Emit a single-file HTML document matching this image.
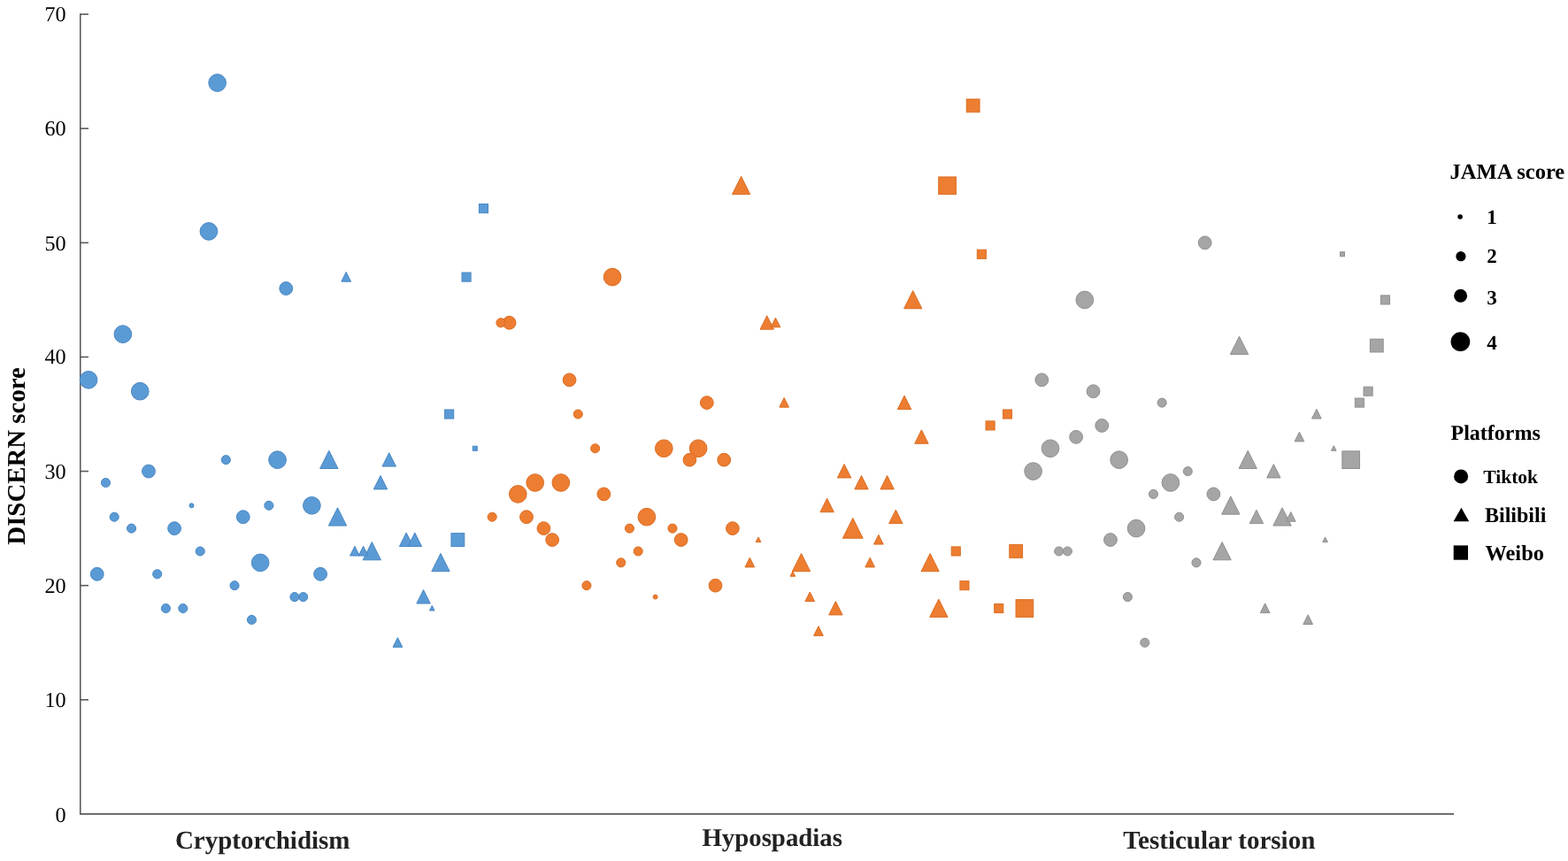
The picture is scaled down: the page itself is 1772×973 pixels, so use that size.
<!DOCTYPE html>
<html lang="en">
<head>
<meta charset="utf-8">
<title>DISCERN score by disease, platform and JAMA score</title>
<style>
html,body{margin:0;padding:0;background:#fff;}
body{width:1772px;height:973px;overflow:hidden;position:relative;font-family:"Liberation Serif",serif;}
svg{position:absolute;left:0;top:0;display:block;}
text{font-family:"Liberation Serif",serif;text-rendering:geometricPrecision;}
.tick{font-size:24.2px;fill:#000;text-anchor:end;}
.cat{font-size:29px;font-weight:bold;fill:#222;text-anchor:middle;}
.ylab{font-size:28.85px;font-weight:bold;fill:#000;text-anchor:middle;}
.lt{font-size:24.55px;font-weight:bold;fill:#000;}
.ll{font-size:21.5px;font-weight:bold;fill:#000;}
</style>
</head>
<body>
<svg width="1772" height="973" viewBox="0 0 1772 973">
<rect x="0" y="0" width="1772" height="973" fill="#ffffff"/>

<g id="axes" fill="none" stroke="#5a5a5a" stroke-width="1.6">
<path d="M90.76 15.33V919.9H1643"/>
<path d="M90.76 790.79H100"/>
<path d="M90.76 661.68H100"/>
<path d="M90.76 532.57H100"/>
<path d="M90.76 403.46H100"/>
<path d="M90.76 274.35H100"/>
<path d="M90.76 145.24H100"/>
<path d="M90.76 16.13H100"/>
</g>
<g id="yticks">
<text class="tick" x="74.6" y="928.6">0</text>
<text class="tick" x="74.6" y="798.99">10</text>
<text class="tick" x="74.6" y="669.88">20</text>
<text class="tick" x="74.6" y="540.77">30</text>
<text class="tick" x="74.6" y="411.3">40</text>
<text class="tick" x="74.6" y="282.55">50</text>
<text class="tick" x="74.6" y="153.44">60</text>
<text class="tick" x="74.6" y="24.2">70</text>
</g>
<text class="ylab" transform="translate(27.6 515.4) rotate(-90)">DISCERN score</text>
<g id="cats">
<text class="cat" x="296.7" y="959.1" style="font-size:29px">Cryptorchidism</text>
<text class="cat" x="872.7" y="955.7" style="font-size:28.8px">Hypospadias</text>
<text class="cat" x="1377.85" y="958.6" style="font-size:29.05px">Testicular torsion</text>
</g>
<g id="points">
<path d="M963.79 585.42L975.19 608.23H952.39Z" fill="#ed7d31" stroke="#db6e23" stroke-width="1"/>
<circle cx="100.05" cy="429.28" r="9.85" fill="#5b9bd5" stroke="#4886c3" stroke-width="1"/>
<circle cx="138.87" cy="377.64" r="9.85" fill="#5b9bd5" stroke="#4886c3" stroke-width="1"/>
<circle cx="158.28" cy="442.19" r="9.85" fill="#5b9bd5" stroke="#4886c3" stroke-width="1"/>
<circle cx="235.92" cy="261.44" r="9.85" fill="#5b9bd5" stroke="#4886c3" stroke-width="1"/>
<circle cx="245.62" cy="93.6" r="9.85" fill="#5b9bd5" stroke="#4886c3" stroke-width="1"/>
<circle cx="294.15" cy="635.86" r="9.85" fill="#5b9bd5" stroke="#4886c3" stroke-width="1"/>
<circle cx="313.56" cy="519.66" r="9.85" fill="#5b9bd5" stroke="#4886c3" stroke-width="1"/>
<circle cx="352.38" cy="571.3" r="9.85" fill="#5b9bd5" stroke="#4886c3" stroke-width="1"/>
<path d="M371.79 509.21L381.94 529.51H361.64Z" fill="#5b9bd5" stroke="#4886c3" stroke-width="1"/>
<path d="M381.5 573.76L391.64 594.06H371.35Z" fill="#5b9bd5" stroke="#4886c3" stroke-width="1"/>
<path d="M420.31 612.5L430.46 632.8H410.17Z" fill="#5b9bd5" stroke="#4886c3" stroke-width="1"/>
<path d="M497.96 625.41L508.11 645.71H487.81Z" fill="#5b9bd5" stroke="#4886c3" stroke-width="1"/>
<circle cx="585.3" cy="558.39" r="9.85" fill="#ed7d31" stroke="#db6e23" stroke-width="1"/>
<circle cx="604.71" cy="545.48" r="9.85" fill="#ed7d31" stroke="#db6e23" stroke-width="1"/>
<circle cx="633.82" cy="545.48" r="9.85" fill="#ed7d31" stroke="#db6e23" stroke-width="1"/>
<circle cx="692.05" cy="313.08" r="9.85" fill="#ed7d31" stroke="#db6e23" stroke-width="1"/>
<circle cx="730.88" cy="584.21" r="9.85" fill="#ed7d31" stroke="#db6e23" stroke-width="1"/>
<circle cx="750.28" cy="506.75" r="9.85" fill="#ed7d31" stroke="#db6e23" stroke-width="1"/>
<circle cx="789.1" cy="506.75" r="9.85" fill="#ed7d31" stroke="#db6e23" stroke-width="1"/>
<path d="M837.63 199.34L847.78 219.64H827.48Z" fill="#ed7d31" stroke="#db6e23" stroke-width="1"/>
<path d="M905.56 625.41L915.71 645.71H895.41Z" fill="#ed7d31" stroke="#db6e23" stroke-width="1"/>
<path d="M1031.73 328.45L1041.88 348.75H1021.58Z" fill="#ed7d31" stroke="#db6e23" stroke-width="1"/>
<path d="M1051.14 625.41L1061.29 645.71H1040.99Z" fill="#ed7d31" stroke="#db6e23" stroke-width="1"/>
<path d="M1060.85 677.05L1071 697.35H1050.69Z" fill="#ed7d31" stroke="#db6e23" stroke-width="1"/>
<rect x="1060.7" y="199.94" width="19.7" height="19.7" fill="#ed7d31" stroke="#db6e23" stroke-width="1"/>
<rect x="1148.05" y="677.65" width="19.7" height="19.7" fill="#ed7d31" stroke="#db6e23" stroke-width="1"/>
<circle cx="1167.6" cy="532.57" r="9.85" fill="#a5a5a5" stroke="#909090" stroke-width="1"/>
<circle cx="1187.01" cy="506.75" r="9.85" fill="#a5a5a5" stroke="#909090" stroke-width="1"/>
<circle cx="1225.83" cy="338.9" r="9.85" fill="#a5a5a5" stroke="#909090" stroke-width="1"/>
<circle cx="1264.65" cy="519.66" r="9.85" fill="#a5a5a5" stroke="#909090" stroke-width="1"/>
<circle cx="1284.06" cy="597.12" r="9.85" fill="#a5a5a5" stroke="#909090" stroke-width="1"/>
<circle cx="1322.88" cy="545.48" r="9.85" fill="#a5a5a5" stroke="#909090" stroke-width="1"/>
<path d="M1381.11 612.5L1391.26 632.8H1370.96Z" fill="#a5a5a5" stroke="#909090" stroke-width="1"/>
<path d="M1390.82 560.85L1400.97 581.15H1380.66Z" fill="#a5a5a5" stroke="#909090" stroke-width="1"/>
<path d="M1400.52 380.1L1410.67 400.4H1390.37Z" fill="#a5a5a5" stroke="#909090" stroke-width="1"/>
<path d="M1410.22 509.21L1420.38 529.51H1400.07Z" fill="#a5a5a5" stroke="#909090" stroke-width="1"/>
<path d="M1449.05 573.76L1459.2 594.06H1438.89Z" fill="#a5a5a5" stroke="#909090" stroke-width="1"/>
<rect x="1516.84" y="509.81" width="19.7" height="19.7" fill="#a5a5a5" stroke="#909090" stroke-width="1"/>
<circle cx="109.75" cy="648.77" r="7.4" fill="#5b9bd5" stroke="#4886c3" stroke-width="1"/>
<circle cx="167.99" cy="532.57" r="7.4" fill="#5b9bd5" stroke="#4886c3" stroke-width="1"/>
<circle cx="197.1" cy="597.12" r="7.4" fill="#5b9bd5" stroke="#4886c3" stroke-width="1"/>
<circle cx="274.74" cy="584.21" r="7.4" fill="#5b9bd5" stroke="#4886c3" stroke-width="1"/>
<circle cx="323.26" cy="325.99" r="7.4" fill="#5b9bd5" stroke="#4886c3" stroke-width="1"/>
<circle cx="362.09" cy="648.77" r="7.4" fill="#5b9bd5" stroke="#4886c3" stroke-width="1"/>
<path d="M430.02 537.48L437.72 552.88H422.32Z" fill="#5b9bd5" stroke="#4886c3" stroke-width="1"/>
<path d="M439.73 511.66L447.43 527.06H432.03Z" fill="#5b9bd5" stroke="#4886c3" stroke-width="1"/>
<path d="M459.13 602.04L466.83 617.44H451.44Z" fill="#5b9bd5" stroke="#4886c3" stroke-width="1"/>
<path d="M468.84 602.04L476.54 617.44H461.14Z" fill="#5b9bd5" stroke="#4886c3" stroke-width="1"/>
<path d="M478.55 666.59L486.25 681.99H470.85Z" fill="#5b9bd5" stroke="#4886c3" stroke-width="1"/>
<rect x="509.97" y="602.64" width="14.8" height="14.8" fill="#5b9bd5" stroke="#4886c3" stroke-width="1"/>
<circle cx="575.6" cy="364.73" r="7.4" fill="#ed7d31" stroke="#db6e23" stroke-width="1"/>
<circle cx="595" cy="584.21" r="7.4" fill="#ed7d31" stroke="#db6e23" stroke-width="1"/>
<circle cx="614.41" cy="597.12" r="7.4" fill="#ed7d31" stroke="#db6e23" stroke-width="1"/>
<circle cx="624.12" cy="610.04" r="7.4" fill="#ed7d31" stroke="#db6e23" stroke-width="1"/>
<circle cx="643.53" cy="429.28" r="7.4" fill="#ed7d31" stroke="#db6e23" stroke-width="1"/>
<circle cx="682.35" cy="558.39" r="7.4" fill="#ed7d31" stroke="#db6e23" stroke-width="1"/>
<circle cx="769.69" cy="610.04" r="7.4" fill="#ed7d31" stroke="#db6e23" stroke-width="1"/>
<circle cx="779.4" cy="519.66" r="7.4" fill="#ed7d31" stroke="#db6e23" stroke-width="1"/>
<circle cx="798.81" cy="455.1" r="7.4" fill="#ed7d31" stroke="#db6e23" stroke-width="1"/>
<circle cx="808.51" cy="661.68" r="7.4" fill="#ed7d31" stroke="#db6e23" stroke-width="1"/>
<circle cx="818.22" cy="519.66" r="7.4" fill="#ed7d31" stroke="#db6e23" stroke-width="1"/>
<circle cx="827.92" cy="597.12" r="7.4" fill="#ed7d31" stroke="#db6e23" stroke-width="1"/>
<path d="M866.75 356.73L874.45 372.13H859.04Z" fill="#ed7d31" stroke="#db6e23" stroke-width="1"/>
<path d="M934.68 563.3L942.38 578.7H926.98Z" fill="#ed7d31" stroke="#db6e23" stroke-width="1"/>
<path d="M944.38 679.5L952.09 694.9H936.68Z" fill="#ed7d31" stroke="#db6e23" stroke-width="1"/>
<path d="M954.09 524.57L961.79 539.97H946.39Z" fill="#ed7d31" stroke="#db6e23" stroke-width="1"/>
<path d="M973.5 537.48L981.2 552.88H965.8Z" fill="#ed7d31" stroke="#db6e23" stroke-width="1"/>
<path d="M1002.62 537.48L1010.32 552.88H994.91Z" fill="#ed7d31" stroke="#db6e23" stroke-width="1"/>
<path d="M1012.32 576.21L1020.02 591.61H1004.62Z" fill="#ed7d31" stroke="#db6e23" stroke-width="1"/>
<path d="M1022.02 447.1L1029.72 462.5H1014.32Z" fill="#ed7d31" stroke="#db6e23" stroke-width="1"/>
<path d="M1041.43 485.84L1049.13 501.24H1033.73Z" fill="#ed7d31" stroke="#db6e23" stroke-width="1"/>
<rect x="1092.26" y="112.02" width="14.8" height="14.8" fill="#ed7d31" stroke="#db6e23" stroke-width="1"/>
<rect x="1140.79" y="615.55" width="14.8" height="14.8" fill="#ed7d31" stroke="#db6e23" stroke-width="1"/>
<circle cx="1177.31" cy="429.28" r="7.4" fill="#a5a5a5" stroke="#909090" stroke-width="1"/>
<circle cx="1216.12" cy="493.84" r="7.4" fill="#a5a5a5" stroke="#909090" stroke-width="1"/>
<circle cx="1235.53" cy="442.19" r="7.4" fill="#a5a5a5" stroke="#909090" stroke-width="1"/>
<circle cx="1245.24" cy="480.93" r="7.4" fill="#a5a5a5" stroke="#909090" stroke-width="1"/>
<circle cx="1254.94" cy="610.04" r="7.4" fill="#a5a5a5" stroke="#909090" stroke-width="1"/>
<circle cx="1361.7" cy="274.35" r="7.4" fill="#a5a5a5" stroke="#909090" stroke-width="1"/>
<circle cx="1371.4" cy="558.39" r="7.4" fill="#a5a5a5" stroke="#909090" stroke-width="1"/>
<path d="M1419.93 576.21L1427.63 591.61H1412.23Z" fill="#a5a5a5" stroke="#909090" stroke-width="1"/>
<path d="M1439.34 524.57L1447.04 539.97H1431.64Z" fill="#a5a5a5" stroke="#909090" stroke-width="1"/>
<rect x="1548.4" y="383.15" width="14.8" height="14.8" fill="#a5a5a5" stroke="#909090" stroke-width="1"/>
<circle cx="119.46" cy="545.48" r="5.05" fill="#5b9bd5" stroke="#4886c3" stroke-width="1"/>
<circle cx="129.16" cy="584.21" r="5.05" fill="#5b9bd5" stroke="#4886c3" stroke-width="1"/>
<circle cx="148.57" cy="597.12" r="5.05" fill="#5b9bd5" stroke="#4886c3" stroke-width="1"/>
<circle cx="177.69" cy="648.77" r="5.05" fill="#5b9bd5" stroke="#4886c3" stroke-width="1"/>
<circle cx="187.39" cy="687.5" r="5.05" fill="#5b9bd5" stroke="#4886c3" stroke-width="1"/>
<circle cx="206.81" cy="687.5" r="5.05" fill="#5b9bd5" stroke="#4886c3" stroke-width="1"/>
<circle cx="226.22" cy="622.95" r="5.05" fill="#5b9bd5" stroke="#4886c3" stroke-width="1"/>
<circle cx="255.33" cy="519.66" r="5.05" fill="#5b9bd5" stroke="#4886c3" stroke-width="1"/>
<circle cx="265.04" cy="661.68" r="5.05" fill="#5b9bd5" stroke="#4886c3" stroke-width="1"/>
<circle cx="284.44" cy="700.41" r="5.05" fill="#5b9bd5" stroke="#4886c3" stroke-width="1"/>
<circle cx="303.86" cy="571.3" r="5.05" fill="#5b9bd5" stroke="#4886c3" stroke-width="1"/>
<circle cx="332.97" cy="674.59" r="5.05" fill="#5b9bd5" stroke="#4886c3" stroke-width="1"/>
<circle cx="342.68" cy="674.59" r="5.05" fill="#5b9bd5" stroke="#4886c3" stroke-width="1"/>
<path d="M391.2 307.43L396.55 318.13H385.85Z" fill="#5b9bd5" stroke="#4886c3" stroke-width="1"/>
<path d="M400.91 617.3L406.26 628H395.56Z" fill="#5b9bd5" stroke="#4886c3" stroke-width="1"/>
<path d="M410.61 617.3L415.96 628H405.26Z" fill="#5b9bd5" stroke="#4886c3" stroke-width="1"/>
<path d="M449.43 720.59L454.78 731.28H444.08Z" fill="#5b9bd5" stroke="#4886c3" stroke-width="1"/>
<rect x="502.61" y="462.96" width="10.1" height="10.1" fill="#5b9bd5" stroke="#4886c3" stroke-width="1"/>
<rect x="522.02" y="308.03" width="10.1" height="10.1" fill="#5b9bd5" stroke="#4886c3" stroke-width="1"/>
<rect x="541.43" y="230.57" width="10.1" height="10.1" fill="#5b9bd5" stroke="#4886c3" stroke-width="1"/>
<circle cx="556.18" cy="584.21" r="5.05" fill="#ed7d31" stroke="#db6e23" stroke-width="1"/>
<circle cx="565.89" cy="364.73" r="5.05" fill="#ed7d31" stroke="#db6e23" stroke-width="1"/>
<circle cx="653.24" cy="468.01" r="5.05" fill="#ed7d31" stroke="#db6e23" stroke-width="1"/>
<circle cx="662.94" cy="661.68" r="5.05" fill="#ed7d31" stroke="#db6e23" stroke-width="1"/>
<circle cx="672.64" cy="506.75" r="5.05" fill="#ed7d31" stroke="#db6e23" stroke-width="1"/>
<circle cx="701.76" cy="635.86" r="5.05" fill="#ed7d31" stroke="#db6e23" stroke-width="1"/>
<circle cx="711.46" cy="597.12" r="5.05" fill="#ed7d31" stroke="#db6e23" stroke-width="1"/>
<circle cx="721.17" cy="622.95" r="5.05" fill="#ed7d31" stroke="#db6e23" stroke-width="1"/>
<circle cx="759.99" cy="597.12" r="5.05" fill="#ed7d31" stroke="#db6e23" stroke-width="1"/>
<path d="M847.33 630.21L852.68 640.91H841.98Z" fill="#ed7d31" stroke="#db6e23" stroke-width="1"/>
<path d="M876.45 359.08L881.8 369.78H871.1Z" fill="#ed7d31" stroke="#db6e23" stroke-width="1"/>
<path d="M886.15 449.45L891.5 460.15H880.8Z" fill="#ed7d31" stroke="#db6e23" stroke-width="1"/>
<path d="M915.27 668.94L920.62 679.64H909.92Z" fill="#ed7d31" stroke="#db6e23" stroke-width="1"/>
<path d="M924.97 707.67L930.32 718.37H919.62Z" fill="#ed7d31" stroke="#db6e23" stroke-width="1"/>
<path d="M983.2 630.21L988.55 640.91H977.85Z" fill="#ed7d31" stroke="#db6e23" stroke-width="1"/>
<path d="M992.91 604.39L998.26 615.09H987.56Z" fill="#ed7d31" stroke="#db6e23" stroke-width="1"/>
<rect x="1075.21" y="617.9" width="10.1" height="10.1" fill="#ed7d31" stroke="#db6e23" stroke-width="1"/>
<rect x="1084.91" y="656.63" width="10.1" height="10.1" fill="#ed7d31" stroke="#db6e23" stroke-width="1"/>
<rect x="1104.32" y="282.21" width="10.1" height="10.1" fill="#ed7d31" stroke="#db6e23" stroke-width="1"/>
<rect x="1114.03" y="475.88" width="10.1" height="10.1" fill="#ed7d31" stroke="#db6e23" stroke-width="1"/>
<rect x="1123.73" y="682.45" width="10.1" height="10.1" fill="#ed7d31" stroke="#db6e23" stroke-width="1"/>
<rect x="1133.43" y="462.96" width="10.1" height="10.1" fill="#ed7d31" stroke="#db6e23" stroke-width="1"/>
<circle cx="1196.71" cy="622.95" r="5.05" fill="#a5a5a5" stroke="#909090" stroke-width="1"/>
<circle cx="1206.42" cy="622.95" r="5.05" fill="#a5a5a5" stroke="#909090" stroke-width="1"/>
<circle cx="1274.36" cy="674.59" r="5.05" fill="#a5a5a5" stroke="#909090" stroke-width="1"/>
<circle cx="1293.76" cy="726.24" r="5.05" fill="#a5a5a5" stroke="#909090" stroke-width="1"/>
<circle cx="1303.47" cy="558.39" r="5.05" fill="#a5a5a5" stroke="#909090" stroke-width="1"/>
<circle cx="1313.17" cy="455.1" r="5.05" fill="#a5a5a5" stroke="#909090" stroke-width="1"/>
<circle cx="1332.59" cy="584.21" r="5.05" fill="#a5a5a5" stroke="#909090" stroke-width="1"/>
<circle cx="1342.29" cy="532.57" r="5.05" fill="#a5a5a5" stroke="#909090" stroke-width="1"/>
<circle cx="1351.99" cy="635.86" r="5.05" fill="#a5a5a5" stroke="#909090" stroke-width="1"/>
<path d="M1429.63 681.85L1434.98 692.55H1424.29Z" fill="#a5a5a5" stroke="#909090" stroke-width="1"/>
<path d="M1458.75 578.56L1464.1 589.26H1453.4Z" fill="#a5a5a5" stroke="#909090" stroke-width="1"/>
<path d="M1468.45 488.19L1473.8 498.89H1463.11Z" fill="#a5a5a5" stroke="#909090" stroke-width="1"/>
<path d="M1478.16 694.76L1483.51 705.46H1472.81Z" fill="#a5a5a5" stroke="#909090" stroke-width="1"/>
<path d="M1487.87 462.36L1493.21 473.06H1482.52Z" fill="#a5a5a5" stroke="#909090" stroke-width="1"/>
<rect x="1531.34" y="450.05" width="10.1" height="10.1" fill="#a5a5a5" stroke="#909090" stroke-width="1"/>
<rect x="1541.05" y="437.14" width="10.1" height="10.1" fill="#a5a5a5" stroke="#909090" stroke-width="1"/>
<rect x="1560.45" y="333.85" width="10.1" height="10.1" fill="#a5a5a5" stroke="#909090" stroke-width="1"/>
<circle cx="216.51" cy="571.3" r="2.5" fill="#5b9bd5" stroke="#4886c3" stroke-width="1"/>
<path d="M488.25 684.4L491.05 690H485.45Z" fill="#5b9bd5" stroke="#4886c3" stroke-width="1"/>
<rect x="534.27" y="504.25" width="5" height="5" fill="#5b9bd5" stroke="#4886c3" stroke-width="1"/>
<circle cx="740.58" cy="674.59" r="2.5" fill="#ed7d31" stroke="#db6e23" stroke-width="1"/>
<path d="M857.04 606.94L859.84 612.54H854.24Z" fill="#ed7d31" stroke="#db6e23" stroke-width="1"/>
<path d="M895.86 645.67L898.66 651.27H893.06Z" fill="#ed7d31" stroke="#db6e23" stroke-width="1"/>
<path d="M1497.57 606.94L1500.37 612.54H1494.77Z" fill="#a5a5a5" stroke="#909090" stroke-width="1"/>
<path d="M1507.27 503.65L1510.07 509.25H1504.47Z" fill="#a5a5a5" stroke="#909090" stroke-width="1"/>
<rect x="1514.48" y="284.76" width="5" height="5" fill="#a5a5a5" stroke="#909090" stroke-width="1"/>
</g>
<g id="legend">
<text class="lt" x="1638.5" y="202.2">JAMA score</text>
<circle cx="1650.1" cy="245" r="2.8" fill="#000"/>
<text class="ll" x="1680.3" y="253" style="font-size:23px">1</text>
<circle cx="1650.9" cy="289.7" r="5.6" fill="#000"/>
<text class="ll" x="1680.3" y="297.2" style="font-size:23px">2</text>
<circle cx="1650.6" cy="334.3" r="7.5" fill="#000"/>
<text class="ll" x="1680.3" y="344" style="font-size:23px">3</text>
<circle cx="1650.4" cy="386.2" r="10.85" fill="#000"/>
<text class="ll" x="1680.3" y="395.3" style="font-size:23px">4</text>
<text class="lt" x="1639.5" y="497.1" style="font-size:24px">Platforms</text>
<circle cx="1651.1" cy="538.4" r="8" fill="#000"/>
<text class="ll" x="1676.3" y="545.6">Tiktok</text>
<path d="M1651.4 573.7L1660.2 589.2H1642.6Z" fill="#000"/>
<text class="ll" x="1678" y="590.3" style="font-size:24px">Bilibili</text>
<rect x="1642.7" y="616.4" width="16.3" height="16.3" fill="#000"/>
<text class="ll" x="1678.5" y="632.5" style="font-size:24.4px">Weibo</text>
</g>
</svg>
</body>
</html>
